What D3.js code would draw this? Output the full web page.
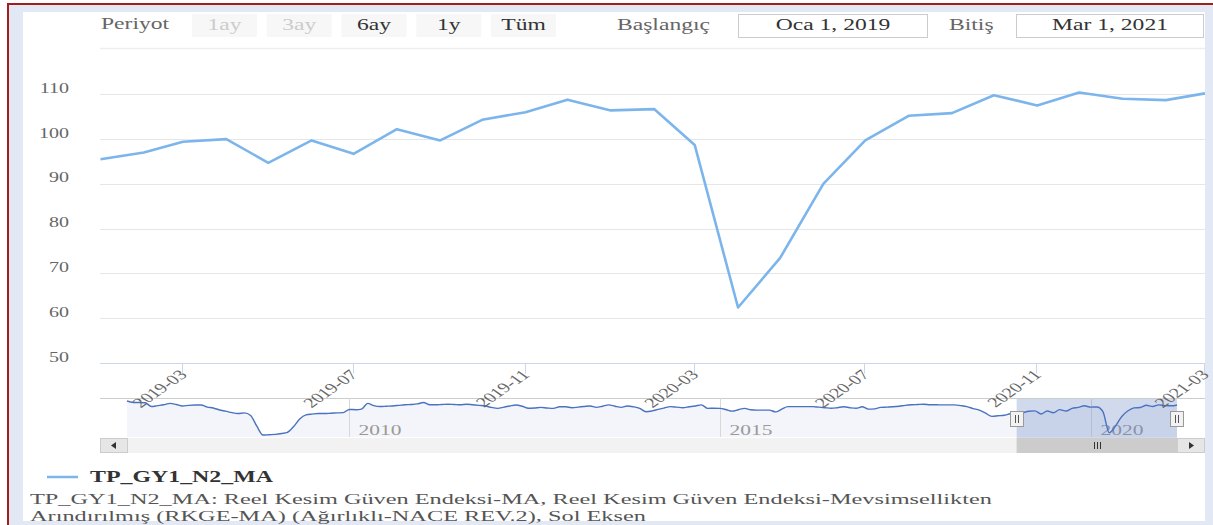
<!DOCTYPE html>
<html>
<head>
<meta charset="utf-8">
<script src="https://cdn.jsdelivr.net/npm/d3@7"></script>
<style>
  html, body { margin: 0; padding: 0; background: #fff; }
  svg { display: block; }
</style>
</head>
<body>
<div id="chart"></div>
<script>
// Series: TP_GY1_N2_MA, monthly (visible window)
const mainMonths = ["2019-01","2019-02","2019-03","2019-04","2019-05","2019-06","2019-07","2019-08","2019-09",
  "2019-10","2019-11","2019-12","2020-01","2020-02","2020-03","2020-04","2020-05","2020-06","2020-07",
  "2020-08","2020-09","2020-10","2020-11","2020-12","2021-01","2021-02","2021-03"];
const mainValues = [95.5, 97.0, 99.4, 100.0, 94.7, 99.7, 96.7, 102.2, 99.7, 104.3, 106.0, 108.8,
  106.4, 106.7, 98.7, 62.4, 73.4, 90.0, 99.7, 105.2, 105.8, 109.8, 107.5, 110.4, 109.0, 108.7, 110.2];

// Older history shown only in the navigator (2007-01 .. 2018-12)
const historyStart = "2007-01";
const historyValues = [
  117, 114.5, 114.5, 114, 107.5, 109, 110.5, 113, 111, 108.5, 109.5, 110,
  110, 106.5, 105, 101.5, 99.5, 97, 95.5, 96.5, 92, 74, 58.5, 59,
  59.5, 61, 63, 73, 86, 93, 94.5, 95.5, 95.5, 96, 96.5, 97,
  102.5, 102, 103, 113, 109, 107.5, 108, 108.5, 109.5, 110.5, 111, 112,
  114.5, 110.5, 110.5, 111, 111.5, 111, 110.5, 111.5, 110.5, 109.5, 108.5, 106,
  104.3, 106.5, 108.5, 110, 108, 104.5, 105, 106, 105, 104.3, 107, 107,
  105.5, 106.5, 107.5, 108.5, 106, 108, 110.3, 108, 106, 108.5, 107, 104.3,
  98.5, 100, 102.5, 105, 107.3, 106.5, 105.5, 107, 108.5, 110.3, 104.3, 104.5,
  104.3, 102, 99.5, 102, 104.3, 102, 101.3, 101.3, 101.3, 98.3, 103, 107.3,
  107.3, 107.3, 107.3, 107.3, 106.5, 105.5, 104.5, 105.5, 107, 105.5, 104.5, 107,
  103, 103.5, 106, 106.5, 107, 108, 109.5, 110.5, 111, 111.5, 110.5, 110.5,
  110.3, 110.3, 110.3, 109, 107.3, 104, 101.3, 96, 90.6, 91.5, 92.5, 95
];

const yTicks = [50, 60, 70, 80, 90, 100, 110];
const xTickLabels = ["2019-03","2019-07","2019-11","2020-03","2020-07","2020-11","2021-03"];
const navTickLabels = ["2010", "2015", "2020"];
const periodButtons = ["1ay", "3ay", "6ay", "1y", "Tüm"];
const disabledButtons = ["1ay", "3ay"];
const rangeStartText = "Oca 1, 2019";
const rangeEndText = "Mar 1, 2021";
const seriesName = "TP_GY1_N2_MA";
const descLines = [
  "TP_GY1_N2_MA: Reel Kesim Güven Endeksi-MA, Reel Kesim Güven Endeksi-Mevsimsellikten",
  "Arındırılmış (RKGE-MA) (Ağırlıklı-NACE REV.2), Sol Eksen"
];

const W = 1213, H = 525;
const SX = 1.43; // the picture is stretched horizontally
const FONT = "'Liberation Serif', 'Times New Roman', serif";
const parseMonth = d3.timeParse("%Y-%m");

const svg = d3.select("#chart").append("svg")
  .attr("width", W).attr("height", H)
  .style("font-family", FONT);

function addText(g, x, y, str, o = {}) {
  let tr = `translate(${x},${y}) scale(${o.sx || SX},1)`;
  if (o.rotate) tr += ` rotate(${o.rotate})`;
  return g.append("text")
    .attr("transform", tr)
    .attr("text-anchor", o.anchor || "start")
    .attr("font-size", o.size || 14)
    .attr("font-weight", o.weight || "normal")
    .attr("fill", o.fill || "#666")
    .text(str);
}

// frame
svg.append("rect").attr("width", W).attr("height", H).attr("fill", "#fff");
svg.append("rect").attr("x", 9).attr("y", 5).attr("width", W - 9).attr("height", H - 5).attr("fill", "#e2e9f4");
svg.append("rect").attr("x", 23).attr("y", 12).attr("width", 1182).attr("height", 509).attr("fill", "#fff");
svg.append("rect").attr("x", 7).attr("y", 3).attr("width", W - 7).attr("height", 2).attr("fill", "#a51c1c");
svg.append("rect").attr("x", 7).attr("y", 3).attr("width", 2).attr("height", H - 3).attr("fill", "#a51c1c");

// range selector
const selector = svg.append("g");
addText(selector, 101, 29, "Periyot", { size: 16.5, fill: "#666" });
const btnX = d3.scalePoint().domain(periodButtons).range([192, 491]);
periodButtons.forEach(b => {
  selector.append("rect").attr("x", btnX(b)).attr("y", 14).attr("width", 65).attr("height", 23)
    .attr("fill", "#f7f7f7");
  addText(selector, btnX(b) + 32.5, 30, b, {
    size: 16.5, anchor: "middle", fill: disabledButtons.includes(b) ? "#cccccc" : "#333"
  });
});
addText(selector, 617, 30, "Başlangıç", { size: 16.5, fill: "#666" });
selector.append("rect").attr("x", 738.5).attr("y", 14.5).attr("width", 189).attr("height", 23)
  .attr("fill", "#fff").attr("stroke", "#cccccc");
addText(selector, 833, 30, rangeStartText, { size: 16.5, anchor: "middle", fill: "#333" });
addText(selector, 949, 30, "Bitiş", { size: 16.5, fill: "#666" });
selector.append("rect").attr("x", 1016.5).attr("y", 14.5).attr("width", 187).attr("height", 23)
  .attr("fill", "#fff").attr("stroke", "#cccccc");
addText(selector, 1110, 30, rangeEndText, { size: 16.5, anchor: "middle", fill: "#333" });
selector.append("line").attr("x1", 100).attr("x2", 1205).attr("y1", 48.5).attr("y2", 48.5)
  .attr("stroke", "#eeeeee").attr("stroke-width", 1.5);

// main chart
const mainData = mainMonths.map((m, i) => ({ date: parseMonth(m), value: mainValues[i] }));
const x = d3.scaleTime()
  .domain(d3.extent(mainData, d => d.date))
  .range([100.5, 1205]);
const y = d3.scaleLinear().domain([50, 110]).range([363, 94.3]);

const plot = svg.append("g");
plot.selectAll("line.grid").data(yTicks.filter(t => t !== 50)).enter().append("line")
  .attr("x1", 100).attr("x2", 1205)
  .attr("y1", d => Math.round(y(d)) + 0.5).attr("y2", d => Math.round(y(d)) + 0.5)
  .attr("stroke", "#e6e6e6");
yTicks.forEach(t => addText(plot, 69, y(t) - 1.5, String(t), { size: 14, anchor: "end", fill: "#666" }));

// x axis
const axisY = Math.round(y(50)) + 0.5;
plot.append("line").attr("x1", 100).attr("x2", 1205).attr("y1", axisY).attr("y2", axisY)
  .attr("stroke", "#ccd6eb");
xTickLabels.forEach(lbl => {
  const tx = Math.round(x(parseMonth(lbl))) - 0.5;
  plot.append("line").attr("x1", tx).attr("x2", tx).attr("y1", axisY).attr("y2", axisY + 10)
    .attr("stroke", "#ccd6eb");
});

plot.append("path").datum(mainData)
  .attr("fill", "none").attr("stroke", "#7cb5ec").attr("stroke-width", 2.6)
  .attr("stroke-linejoin", "round")
  .attr("d", d3.line().x(d => x(d.date)).y(d => y(d.value)));

// navigator
const start = parseMonth(historyStart);
const navData = historyValues.map((v, i) => ({ date: d3.timeMonth.offset(start, i), value: v }))
  .concat(mainData);
const navTop = 398, navBottom = 437;
const nx = d3.scaleTime().domain(d3.extent(navData, d => d.date)).range([127, 1177]);
const ny = d3.scaleLinear().domain(d3.extent(navData, d => d.value)).range([435, 401]);

const nav = svg.append("g");
nav.append("line").attr("x1", 100).attr("x2", 1205).attr("y1", navTop + 0.5).attr("y2", navTop + 0.5)
  .attr("stroke", "#cccccc");
nav.append("path").datum(navData)
  .attr("fill", "#f3f5fa")
  .attr("d", d3.area().curve(d3.curveMonotoneX).x(d => nx(d.date)).y0(navBottom).y1(d => ny(d.value)));
navTickLabels.forEach(lbl => {
  const gx = Math.round(nx(new Date(+lbl, 0, 1))) + 0.5;
  nav.append("line").attr("x1", gx).attr("x2", gx).attr("y1", navTop).attr("y2", navBottom)
    .attr("stroke", "#d8d8d8");
  addText(nav, gx + 9, 435, lbl, { size: 15, fill: "#999" });
});

const selX0 = nx(mainData[0].date), selX1 = nx(mainData[mainData.length - 1].date);
nav.append("rect").attr("x", selX0).attr("y", navTop + 1).attr("width", selX1 - selX0)
  .attr("height", navBottom - navTop).attr("fill", "rgba(102,133,194,0.3)");

nav.append("path").datum(navData)
  .attr("fill", "none").attr("stroke", "#4a72c0").attr("stroke-width", 1.4)
  .attr("d", d3.line().curve(d3.curveMonotoneX).x(d => nx(d.date)).y(d => ny(d.value)));

// scrollbar
const sbY = 438, sbH = 15;
nav.append("rect").attr("x", 100).attr("y", sbY).attr("width", 1105).attr("height", sbH).attr("fill", "#f2f2f2");
nav.append("rect").attr("x", selX0).attr("y", sbY).attr("width", selX1 - selX0).attr("height", sbH)
  .attr("fill", "#cccccc");
[-3, 0, 3].forEach(o => {
  const gx = Math.round((selX0 + selX1) / 2 + o) + 0.5;
  nav.append("line").attr("x1", gx).attr("x2", gx).attr("y1", sbY + 4).attr("y2", sbY + 11)
    .attr("stroke", "#333");
});
[[100.5, -1], [1177.5, 1]].forEach(([bx, dir]) => {
  nav.append("rect").attr("x", bx).attr("y", sbY + 0.5).attr("width", 27).attr("height", sbH - 1)
    .attr("fill", "#e6e6e6").attr("stroke", "#cccccc");
  const cx = bx + 13.5, cy = sbY + sbH / 2;
  nav.append("path")
    .attr("d", `M${cx + 3 * dir},${cy} L${cx - 2 * dir},${cy - 3.5} L${cx - 2 * dir},${cy + 3.5} Z`)
    .attr("fill", "#333");
});

// handles
[selX0, selX1].forEach(hx => {
  const h = nav.append("g").attr("transform", `translate(${Math.round(hx)},419)`);
  h.append("rect").attr("x", -6.5).attr("y", -7.5).attr("width", 13).attr("height", 15)
    .attr("fill", "#f2f2f2").attr("stroke", "#999");
  [-1.5, 1.5].forEach(o => h.append("line").attr("x1", o).attr("x2", o).attr("y1", -4).attr("y2", 4)
    .attr("stroke", "#555"));
});

// x labels (drawn above the navigator)
xTickLabels.forEach(lbl => {
  const tx = x(parseMonth(lbl));
  addText(svg, tx + 5, axisY + 12, lbl, { size: 14, anchor: "end", rotate: -45, fill: "#666" });
});

// legend
const leg = svg.append("g");
leg.append("line").attr("x1", 47).attr("x2", 78).attr("y1", 477).attr("y2", 477)
  .attr("stroke", "#7cb5ec").attr("stroke-width", 2.5);
addText(leg, 90, 482, seriesName, { size: 16.7, weight: "bold", fill: "#333" });

// description (glyphs squeezed vertically like the reference so the two lines don't touch)
descLines.forEach((t, i) => addText(svg, 30, 504 + i * 17, t, { size: 15.2, sx: 1.6, fill: "#555" }));
</script>
</body>
</html>
